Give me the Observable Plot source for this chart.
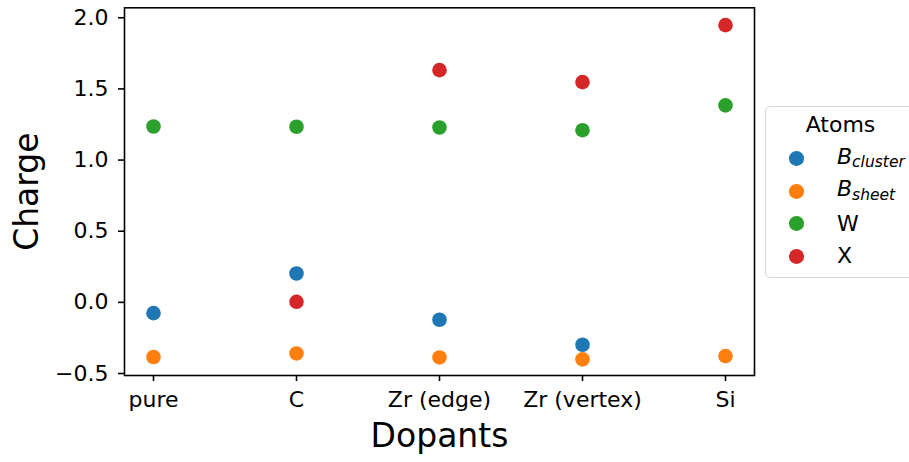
<!DOCTYPE html>
<html>
<head>
<meta charset="utf-8">
<script src="https://cdn.jsdelivr.net/npm/d3@7"></script>
<script src="https://cdn.jsdelivr.net/npm/@observablehq/plot@0.6"></script>
<style>
  html, body { margin: 0; padding: 0; background: white; }
  #wrap { position: relative; width: 909px; height: 462px; overflow: hidden; font-family: "DejaVu Sans", sans-serif; }
  #legend { position: absolute; left: 765px; top: 106px; width: 151px; height: 172px; box-sizing: border-box;
            border: 1.5px solid #d6d6d6; border-radius: 5px; background: rgba(255,255,255,0.8); }
  .ltitle { position: absolute; left: 0; right: 0; top: 7px; text-align: center; font-size: 22px; line-height: 22px; color: #000; }
  .lrow { position: absolute; left: 0; height: 22px; }
  .ldot { position: absolute; left: 23px; top: 3.7px; width: 14.6px; height: 14.6px; border-radius: 50%; }
  .ltext { position: absolute; left: 71px; top: 0; font-size: 22px; line-height: 22px; white-space: nowrap; color: #000; }
  .mb { font-style: italic; position: relative; top: -2px; }
  .ms { font-style: italic; font-size: 15.5px; position: relative; top: 3.4px; }
</style>
</head>
<body>
<div id="wrap">
  <div id="chart"></div>
  <div id="legend"></div>
</div>
<script>
// ---- data ----
const dopants = ["pure", "C", "Zr (edge)", "Zr (vertex)", "Si"];
const atoms = ["B_cluster", "B_sheet", "W", "X"];
const atomColors = ["#1f77b4", "#ff7f0e", "#2ca02c", "#d62728"];
const bCluster = [-0.076, 0.203, -0.122, -0.298, null];
const bSheet = [-0.384, -0.359, -0.387, -0.401, -0.378];
const wCharge = [1.236, 1.234, 1.229, 1.210, 1.384];
const xCharge = [null, 0.004, 1.632, 1.548, 1.948];
const yTicks = [-0.5, 0.0, 0.5, 1.0, 1.5, 2.0];
const legendLabels = [
  {base: "B", sub: "cluster"},
  {base: "B", sub: "sheet"},
  {base: "W", sub: null},
  {base: "X", sub: null}
];

const seriesValues = [bCluster, bSheet, wCharge, xCharge];
const rows = [];
atoms.forEach((a, i) => {
  seriesValues[i].forEach((v, j) => {
    if (v !== null) rows.push({dopant: dopants[j], atom: a, value: v});
  });
});

const H = 462, W = 909;
const chart = Plot.plot({
  width: W,
  height: H,
  marginLeft: 124,
  marginRight: 155,
  marginTop: 7.3,
  marginBottom: 87,
  style: {fontFamily: "DejaVu Sans, sans-serif", fontSize: "22px", color: "#000", background: "white", overflow: "visible"},
  x: {type: "point", domain: dopants, padding: 0.2, label: null},
  y: {domain: [-0.514, 2.07], label: null},
  color: {domain: atoms, range: atomColors},
  marks: [
    Plot.axisX({tickSize: 6, tickPadding: 10, strokeWidth: 1.6, fontSize: 22, label: null}),
    Plot.axisY({ticks: yTicks, tickFormat: d3.format(".1f"), tickSize: 6, tickPadding: 10, strokeWidth: 1.6, fontSize: 22, label: null}),
    Plot.dot(rows, {x: "dopant", y: "value", fill: "atom", r: 7.3, stroke: "none"}),
    Plot.frame({stroke: "#000", strokeWidth: 1.6}),
    Plot.text(["Charge"], {frameAnchor: "left", dx: -97, rotate: -90, fontSize: 33, textAnchor: "middle", lineAnchor: "middle"}),
    Plot.text(["Dopants"], {frameAnchor: "bottom", dy: 61, fontSize: 33, textAnchor: "middle", lineAnchor: "middle"})
  ]
});
document.getElementById("chart").appendChild(chart);

// ---- legend ----
const legend = document.getElementById("legend");
const title = document.createElement("div");
title.className = "ltitle";
title.textContent = "Atoms";
legend.appendChild(title);
legendLabels.forEach((lab, i) => {
  const row = document.createElement("div");
  row.className = "lrow";
  row.style.top = (53.3 - 1.5 + i * 32.5 - 11) + "px";
  const dot = document.createElement("span");
  dot.className = "ldot";
  dot.style.background = atomColors[i];
  row.appendChild(dot);
  const t = document.createElement("span");
  t.className = "ltext";
  if (lab.sub) {
    const b = document.createElement("span");
    b.className = "mb";
    b.textContent = lab.base;
    const s = document.createElement("span");
    s.className = "ms";
    s.textContent = lab.sub;
    b.appendChild(s);
    t.appendChild(b);
  } else {
    t.textContent = lab.base;
  }
  row.appendChild(t);
  legend.appendChild(row);
});
</script>
</body>
</html>
